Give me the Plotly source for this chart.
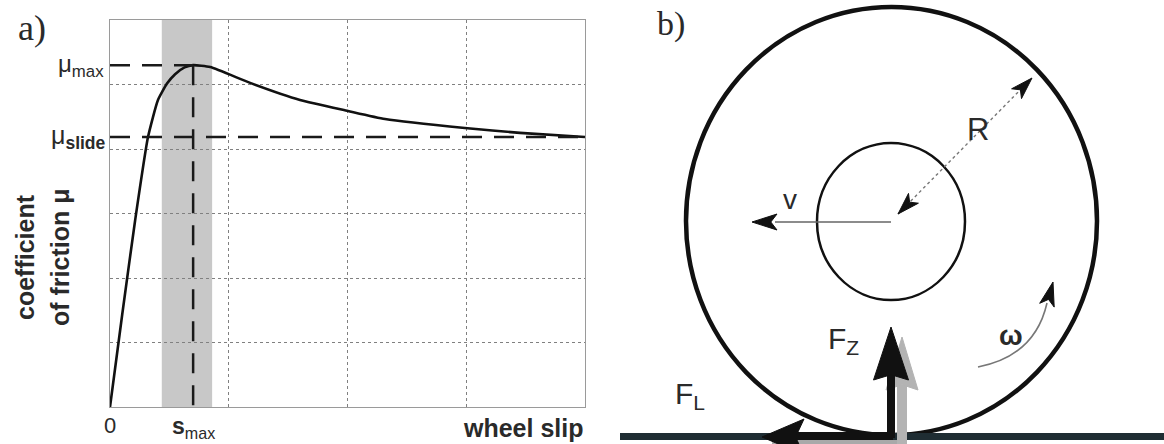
import math
import plotly.graph_objects as go

# ---------------- data (panel a) ----------------
slip = [0.0, 0.026, 0.053, 0.080, 0.101, 0.120, 0.137, 0.157, 0.175, 0.211, 0.295,
        0.400, 0.501, 0.579, 0.747, 0.863, 1.0]
mu = [0.0, 0.290, 0.580, 0.837, 0.952, 1.003, 1.032, 1.053, 1.060, 1.054, 1.005,
      0.952, 0.918, 0.893, 0.865, 0.850, 0.837]
mu_max = 1.060
mu_slide = 0.837
s_max = 0.175
band = [0.109, 0.215]
x_labels = ["0", "<b>s</b><sub>max</sub>"]
x_label_pos = [0.0, s_max]
y_title = ["<b>coefficient</b>", "<b>of friction μ</b>"]

W, H = 1164, 444
SANS = "Liberation Sans, Arial, sans-serif"
SERIF = "Liberation Serif, Times New Roman, serif"
TXT = "#2a2a2a"

fig = go.Figure()

# friction curve
fig.add_trace(go.Scatter(x=slip, y=mu, mode="lines",
                         line=dict(color="#111", width=2.6, shape="spline", smoothing=0.5),
                         hoverinfo="skip", showlegend=False, xaxis="x", yaxis="y"))
dash = "20px,12px"
fig.add_trace(go.Scatter(x=[0, s_max], y=[mu_max, mu_max], mode="lines",
                         line=dict(color="#1a1a1a", width=2.5, dash=dash),
                         showlegend=False, hoverinfo="skip", xaxis="x", yaxis="y"))
fig.add_trace(go.Scatter(x=[0, 1], y=[mu_slide, mu_slide], mode="lines",
                         line=dict(color="#1a1a1a", width=2.5, dash=dash),
                         showlegend=False, hoverinfo="skip", xaxis="x", yaxis="y"))
fig.add_trace(go.Scatter(x=[s_max, s_max], y=[mu_max, 0], mode="lines",
                         line=dict(color="#1a1a1a", width=2.5, dash=dash),
                         showlegend=False, hoverinfo="skip", xaxis="x", yaxis="y"))

shapes = []
shapes.append(dict(type="rect", xref="x", yref="y domain", x0=band[0], x1=band[1],
                   y0=0, y1=1, fillcolor="#c8c8c8", line=dict(width=0), layer="below"))

annotations = []
annotations.append(dict(text="a)", xref="paper", yref="paper", x=32 / W, y=1 - 28 / H,
                        showarrow=False, font=dict(family=SERIF, size=36, color=TXT),
                        xanchor="center", yanchor="middle"))
annotations.append(dict(text="μ<sub>max</sub>", xref="x", yref="y", x=0, y=mu_max,
                        xanchor="right", yanchor="middle", xshift=-4, showarrow=False,
                        font=dict(family=SANS, size=24, color=TXT)))
annotations.append(dict(text="μ<sub><b>slide</b></sub>", xref="x", yref="y", x=0, y=mu_slide,
                        xanchor="right", yanchor="middle", xshift=-2, showarrow=False,
                        font=dict(family=SANS, size=25, color=TXT)))
for lab_, xp in zip(x_labels, x_label_pos):
    annotations.append(dict(text=lab_, xref="x", yref="y", x=xp, y=0, xanchor="center",
                            yanchor="top", yshift=-4, showarrow=False,
                            font=dict(family=SANS, size=22 if lab_ == "0" else 23, color=TXT)))
annotations.append(dict(text="<b>wheel slip</b>", xref="x", yref="y", x=1, y=0,
                        xanchor="right", yanchor="top", yshift=-5, showarrow=False,
                        font=dict(family=SANS, size=25, color=TXT)))
for t, px in zip(y_title, [25, 60]):
    annotations.append(dict(text=t, xref="paper", yref="paper", x=px / W, y=1 - 257 / H,
                            textangle=-90, xanchor="center", yanchor="middle",
                            showarrow=False, font=dict(family=SANS, size=25, color=TXT)))

# ---------------- panel b (schematic, axis units = pixels) ----------------
def head(tip, frm, length, width, notch=0.25, color="#111"):
    dx, dy = tip[0] - frm[0], tip[1] - frm[1]
    d = math.hypot(dx, dy)
    ux, uy = dx / d, dy / d
    px, py = -uy, ux
    bx, by = tip[0] - ux * length, tip[1] - uy * length
    nx, ny = tip[0] - ux * length * (1 - notch), tip[1] - uy * length * (1 - notch)
    p = (f"M {tip[0]:.1f} {tip[1]:.1f} L {bx + px * width / 2:.1f} {by + py * width / 2:.1f} "
         f"L {nx:.1f} {ny:.1f} L {bx - px * width / 2:.1f} {by - py * width / 2:.1f} Z")
    return dict(type="path", xref="x2", yref="y2", path=p, fillcolor=color,
                line=dict(color=color, width=1))

def seg(x0, y0, x1, y1, color, width, dashs=None):
    ln = dict(color=color, width=width)
    if dashs:
        ln["dash"] = dashs
    return dict(type="line", xref="x2", yref="y2", x0=x0, y0=y0, x1=x1, y1=y1, line=ln)

cx, cy = 891, 221
shapes.append(dict(type="circle", xref="x2", yref="y2", x0=686, x1=1097, y0=7, y1=435,
                   line=dict(color="#111", width=4.5)))
shapes.append(dict(type="circle", xref="x2", yref="y2", x0=817, x1=965, y0=143, y1=300,
                   line=dict(color="#111", width=2.5)))
shapes.append(seg(620, 436.5, 1164, 436.5, "#1f2d33", 7))
shapes.append(seg(772, 442, 905, 442, "#a9a9a9", 4))
shapes.append(seg(795, 436, 893, 436, "#111", 8))
shapes.append(head((762, 437), (893, 437), 42, 36, notch=0.2))
shapes.append(seg(902, 444, 902, 385, "#b3b3b3", 10))
shapes.append(head((902, 337), (902, 444), 53, 32, notch=0.1, color="#b3b3b3"))
shapes.append(seg(891, 438, 891, 372, "#111", 8))
shapes.append(head((891, 327), (891, 438), 53, 35, notch=0.1))
shapes.append(seg(cx, 222, 775, 222, "#666", 1.3))
shapes.append(head((752, 222), (cx, 222), 25, 16))
shapes.append(seg(898, 214, 1032, 78, "#777", 1.4, "dot"))
shapes.append(head((1032, 78), (898, 214), 22, 14))
shapes.append(head((898, 214), (1032, 78), 22, 14))
shapes.append(dict(type="path", xref="x2", yref="y2", path="M 978 367 Q 1035 356 1047 303",
                   line=dict(color="#777", width=1.6)))
shapes.append(head((1053, 282), (1047, 305), 24, 15))

def lab(text, x, y, size, xanchor="center", fam=SANS):
    annotations.append(dict(text=text, xref="x2", yref="y2", x=x, y=y, showarrow=False,
                            xanchor=xanchor, yanchor="middle",
                            font=dict(family=fam, size=size, color=TXT)))

lab("b)", 671, 24, 34, fam=SERIF)
lab("v", 790, 199, 28)
lab("R", 978, 129, 31)
lab("<b>ω</b>", 1011, 335, 28)
lab("F<sub>Z</sub>", 826, 340, 30, xanchor="left")
lab("F<sub>L</sub>", 673, 395, 30, xanchor="left")

axis_common = dict(showgrid=True, gridcolor="#808080", griddash="dot", gridwidth=1,
                   showline=True, mirror=True, linecolor="#9a9a9a", linewidth=1.2,
                   zeroline=False, showticklabels=False, ticks="", fixedrange=True)

fig.update_layout(
    width=W, height=H, autosize=False,
    margin=dict(l=0, r=0, t=0, b=0),
    paper_bgcolor="white", plot_bgcolor="white",
    showlegend=False,
    xaxis=dict(domain=[110 / W, 585 / W], range=[0, 1], dtick=0.25, tick0=0, **axis_common),
    yaxis=dict(domain=[37 / H, 424 / H], range=[0, 1.2], dtick=0.2, tick0=0, **axis_common),
    xaxis2=dict(domain=[600 / W, 1], range=[600, 1164], visible=False, fixedrange=True,
                anchor="y2"),
    yaxis2=dict(domain=[0, 1], range=[444, 0], visible=False, fixedrange=True, anchor="x2"),
    shapes=shapes,
    annotations=annotations,
)

fig.write_html("out.html")
